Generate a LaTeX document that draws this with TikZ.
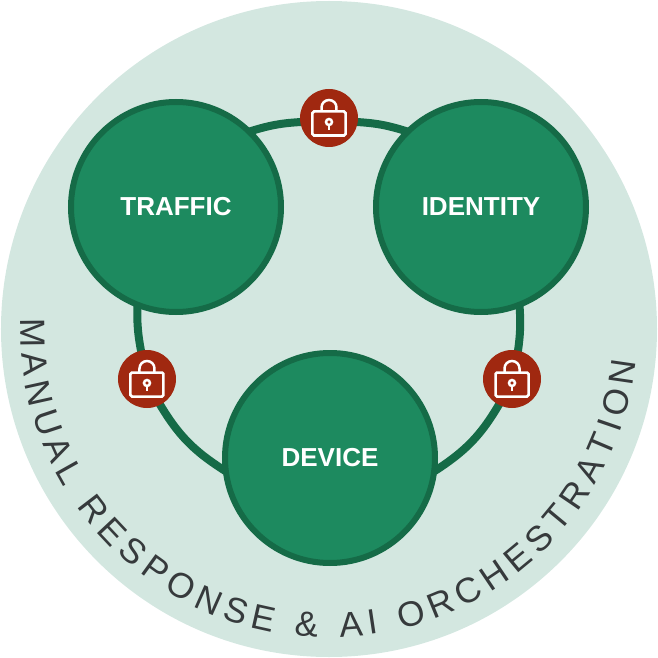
\documentclass[tikz,border=0pt]{standalone}
\usepackage{fontspec}
\setmainfont{Liberation Sans}
\usetikzlibrary{decorations.text}
\usetikzlibrary{backgrounds}

\definecolor{paleback}{HTML}{D3E7E0}
\definecolor{hubfill}{HTML}{1D8A5F}
\definecolor{hubline}{HTML}{156B47}
\definecolor{lockred}{HTML}{A02810}
\definecolor{ringtext}{HTML}{363A3C}

\tikzset{
  hub/.style={circle, draw=hubline, fill=hubfill, line width=0.12cm, minimum size=4.2cm, inner sep=0pt, text=white, font=\fontsize{14.8}{16}\selectfont\bfseries},
  lockdisc/.style={circle, fill=lockred, minimum size=1.16cm, inner sep=0pt, outer sep=0pt},
  ringline/.style={line width=0.16cm, hubline, shorten <=-2pt, shorten >=-2pt},
  lockicon/.pic={
    \draw[white, line width=0.05cm, rounded corners=0.03cm] (-0.33,-0.35) rectangle (0.33,0.13);
    \draw[white, line width=0.05cm] (-0.15,0.13) -- (-0.15,0.21) arc (180:0:0.15) -- (0.15,0.13);
    \draw[white, line width=0.05cm] (0,-0.08) circle (0.06);
    \draw[white, line width=0.05cm] (0,-0.14) -- (0,-0.24);
  }
}

\begin{document}
\begin{tikzpicture}
  \useasboundingbox (-6.58,-6.58) rectangle (6.58,6.58);

  % three hubs
  \node[hub] (traffic) at (-3.06,2.44) {TRAFFIC};
  \node[hub] (identity) at (3.04,2.44) {IDENTITY};
  \node[hub] (device) at (0.02,-2.58) {DEVICE};

  % locks on the ring
  \node[lockdisc] (locktop) at (0,4.22) {};
  \node[lockdisc] (lockleft) at (-3.64,-1.0) {};
  \node[lockdisc] (lockright) at (3.66,-1.0) {};
  \pic at (locktop) {lockicon};
  \pic at (lockleft) {lockicon};
  \pic at (lockright) {lockicon};

  \begin{scope}[on background layer]
    % background disc
    \fill[paleback] (0,0) circle (6.56);

    % ring pieces
    \draw[ringline] (traffic.45) to[bend left=7] (locktop.188);
    \draw[ringline] (locktop.-8) to[bend left=7] (identity.135);
    \draw[ringline] (traffic.249) to[bend right=6] (lockleft.102);
    \draw[ringline] (lockleft.-63) to[bend right=13.5] (device.186);
    \draw[ringline] (device.-6) to[bend right=13.5] (lockright.243);
    \draw[ringline] (lockright.78) to[bend right=6] (identity.291);
  \end{scope}

  % curved caption
  \path[decorate, decoration={text along path, text align=fit to path,
      text={|\fontsize{20}{22}\selectfont\color{ringtext}|MANUAL RESPONSE {\&} AI ORCHESTRATION}}]
    (178:6.17) arc (178:354:6.17);
\end{tikzpicture}
\end{document}
